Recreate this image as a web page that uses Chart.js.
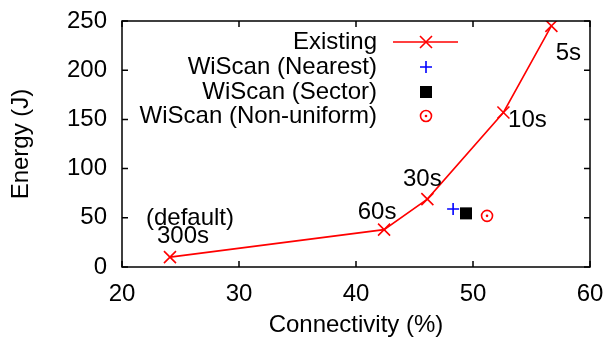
<!DOCTYPE html>
<html>
<head>
<meta charset="utf-8">
<script src="https://cdn.jsdelivr.net/npm/chart.js@4/dist/chart.umd.min.js"></script>
<style>
  body { margin: 0; background: #fff; }
  canvas { display: block; }
</style>
</head>
<body>
<canvas id="chart" width="608" height="341"></canvas>
<script>
// values
const existingX = [24.1, 42.4, 46.1, 52.6, 56.7];
const existingY = [10, 38, 69, 157, 245];
const intervalLabels = [["(default)", "300s"], ["60s"], ["30s"], ["10s"], ["5s"]];
const nearestX = [48.3], nearestY = [59];
const sectorX = [49.4], sectorY = [54.5];
const nonUniformX = [51.2], nonUniformY = [52];
const xTicks = [20, 30, 40, 50, 60];
const yTicks = [0, 50, 100, 150, 200, 250];
const seriesNames = ["Existing", "WiScan (Nearest)", "WiScan (Sector)", "WiScan (Non-uniform)"];

const FONT = '"Liberation Sans", Arial, Helvetica, sans-serif';
const FS = 24;
const RED = "#ff0000", BLUE = "#0000ff";

const pts = (xs, ys) => xs.map((x, i) => ({ x: x, y: ys[i] }));

function marker(ctx, kind, x, y) {
  ctx.save();
  ctx.lineWidth = 1.6;
  if (kind === "x") {
    ctx.strokeStyle = RED;
    ctx.beginPath();
    ctx.moveTo(x - 6, y - 6); ctx.lineTo(x + 6, y + 6);
    ctx.moveTo(x - 6, y + 6); ctx.lineTo(x + 6, y - 6);
    ctx.stroke();
  } else if (kind === "+") {
    ctx.strokeStyle = BLUE;
    ctx.beginPath();
    ctx.moveTo(x - 6, y); ctx.lineTo(x + 6, y);
    ctx.moveTo(x, y - 6); ctx.lineTo(x, y + 6);
    ctx.stroke();
  } else if (kind === "sq") {
    ctx.fillStyle = "#000";
    ctx.fillRect(x - 6, y - 6, 12, 12);
  } else {
    ctx.strokeStyle = RED;
    ctx.beginPath(); ctx.arc(x, y, 5.5, 0, Math.PI * 2); ctx.stroke();
    ctx.fillStyle = RED;
    ctx.beginPath(); ctx.arc(x, y, 1.3, 0, Math.PI * 2); ctx.fill();
  }
  ctx.restore();
}

const framePlugin = {
  id: "frame",
  afterDraw(chart) {
    const { ctx, chartArea: a, scales } = chart;
    ctx.save();
    ctx.strokeStyle = "#000";
    ctx.lineWidth = 1.5;
    ctx.strokeRect(a.left, a.top, a.right - a.left, a.bottom - a.top);
    ctx.beginPath();
    xTicks.forEach(v => {
      const px = scales.x.getPixelForValue(v);
      ctx.moveTo(px, a.bottom); ctx.lineTo(px, a.bottom - 6);
      ctx.moveTo(px, a.top); ctx.lineTo(px, a.top + 6);
    });
    yTicks.forEach(v => {
      const py = scales.y.getPixelForValue(v);
      ctx.moveTo(a.left, py); ctx.lineTo(a.left + 6, py);
      ctx.moveTo(a.right, py); ctx.lineTo(a.right - 6, py);
    });
    ctx.stroke();
    ctx.restore();
  }
};

// text next to the interval points, offsets in pixels
const labelOffsets = [[[20, -39], [13, -21]], [[-7, -17]], [[-5, -20]], [[24, 8]], [[17, 27]]];

const extrasPlugin = {
  id: "extras",
  afterDatasetsDraw(chart) {
    const { ctx, scales } = chart;
    ctx.save();
    ctx.font = FS + "px " + FONT;
    ctx.fillStyle = "#000";
    ctx.textAlign = "center";
    ctx.textBaseline = "middle";
    existingX.forEach((x, i) => {
      const px = scales.x.getPixelForValue(x);
      const py = scales.y.getPixelForValue(existingY[i]);
      intervalLabels[i].forEach((t, j) => {
        ctx.fillText(t, px + labelOffsets[i][j][0], py + labelOffsets[i][j][1]);
      });
    });
    // dot inside the non-uniform circle
    const m = chart.getDatasetMeta(3);
    m.data.forEach(p => {
      ctx.fillStyle = RED;
      ctx.beginPath(); ctx.arc(p.x, p.y, 1.3, 0, Math.PI * 2); ctx.fill();
    });

    // legend
    const kinds = ["x", "+", "sq", "o"];
    const rows = [42, 67, 92, 116];
    ctx.textAlign = "right";
    seriesNames.forEach((name, i) => {
      ctx.fillStyle = "#000";
      ctx.fillText(name, 377, rows[i]);
      if (i === 0) {
        ctx.strokeStyle = RED;
        ctx.lineWidth = 1.6;
        ctx.beginPath(); ctx.moveTo(393, rows[i]); ctx.lineTo(458, rows[i]); ctx.stroke();
      }
      marker(ctx, kinds[i], 426, rows[i]);
    });
    ctx.restore();
  }
};

new Chart(document.getElementById("chart"), {
  type: "scatter",
  data: {
    datasets: [
      {
        label: seriesNames[0],
        data: pts(existingX, existingY),
        showLine: true,
        borderColor: RED,
        borderWidth: 1.6,
        pointStyle: "crossRot",
        pointRadius: 8.5,
        pointBorderWidth: 1.6,
        pointBorderColor: RED,
      },
      {
        label: seriesNames[1],
        data: pts(nearestX, nearestY),
        pointStyle: "cross",
        pointRadius: 6,
        pointBorderWidth: 1.6,
        pointBorderColor: BLUE,
      },
      {
        label: seriesNames[2],
        data: pts(sectorX, sectorY),
        pointStyle: "rect",
        pointRadius: 8.5,
        pointBorderWidth: 0,
        pointBackgroundColor: "#000",
        pointBorderColor: "#000",
      },
      {
        label: seriesNames[3],
        data: pts(nonUniformX, nonUniformY),
        pointStyle: "circle",
        pointRadius: 5.5,
        pointBorderWidth: 1.6,
        pointBorderColor: RED,
        pointBackgroundColor: "rgba(0,0,0,0)",
      },
    ],
  },
  options: {
    responsive: false,
    animation: false,
    layout: { padding: { left: 0, right: 18, top: 21, bottom: 0 } },
    plugins: {
      legend: { display: false },
      tooltip: { enabled: false },
    },
    scales: {
      x: {
        min: 20,
        max: 60,
        afterFit(s) { s.height = 74; s.paddingLeft = 0; s.paddingRight = 0; },
        afterBuildTicks(s) { s.ticks = xTicks.map(v => ({ value: v })); },
        grid: { display: false, drawTicks: false },
        border: { display: false },
        ticks: { color: "#000", padding: 13, maxRotation: 0, font: { family: FONT, size: FS } },
        title: {
          display: true,
          text: "Connectivity (%)",
          color: "#000",
          padding: { top: 0, bottom: 1 },
          font: { family: FONT, size: FS },
        },
      },
      y: {
        min: 0,
        max: 250,
        afterFit(s) { s.width = 122; s.paddingTop = 0; s.paddingBottom = 0; },
        afterBuildTicks(s) { s.ticks = yTicks.map(v => ({ value: v })); },
        grid: { display: false, drawTicks: false },
        border: { display: false },
        ticks: { color: "#000", padding: 15, font: { family: FONT, size: FS } },
        title: {
          display: true,
          text: "Energy (J)",
          color: "#000",
          padding: { top: 7, bottom: 0 },
          font: { family: FONT, size: FS },
        },
      },
    },
  },
  plugins: [framePlugin, extrasPlugin],
});
</script>
</body>
</html>
